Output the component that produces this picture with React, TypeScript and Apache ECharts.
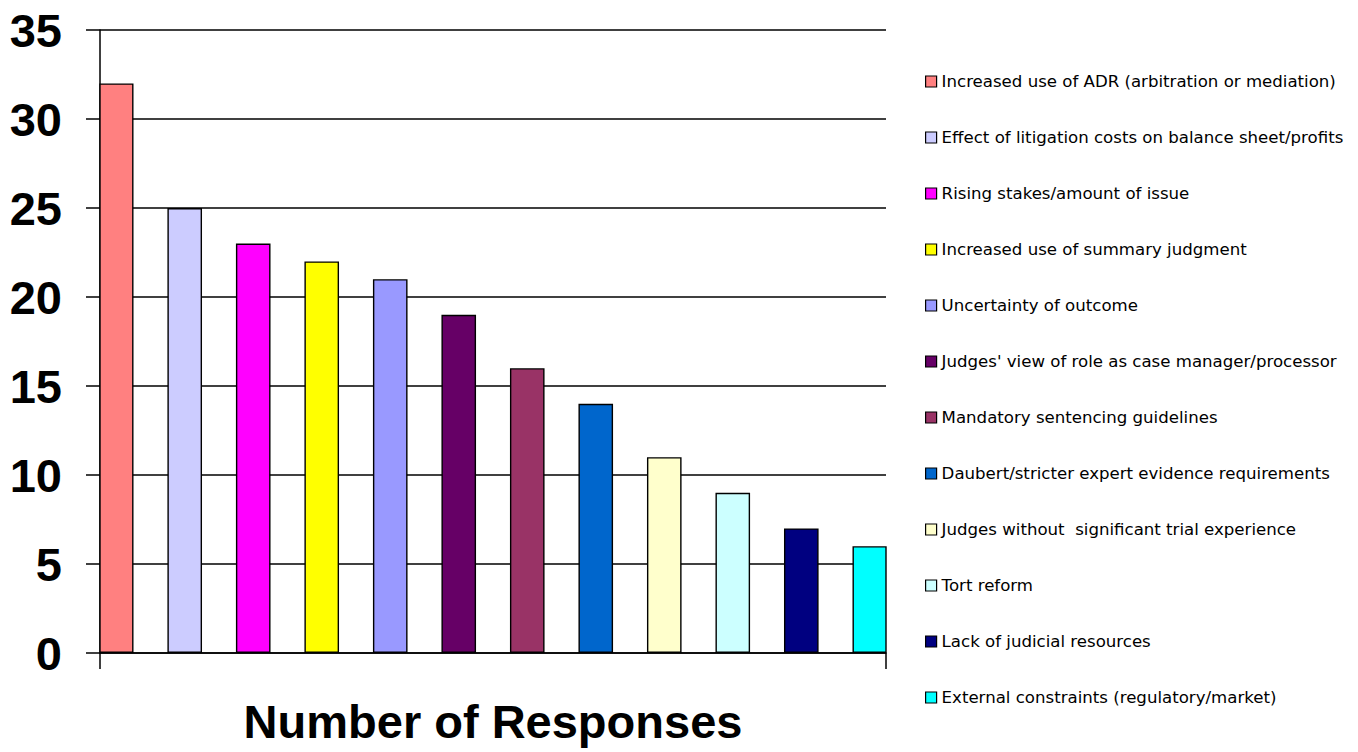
import React, { useEffect, useRef } from "react";
import * as echarts from "echarts";

// Survey factors, in the order the bars are drawn
const factors = [
  "Increased use of ADR (arbitration or mediation)",
  "Effect of litigation costs on balance sheet/profits",
  "Rising stakes/amount of issue",
  "Increased use of summary judgment",
  "Uncertainty of outcome",
  "Judges' view of role as case manager/processor",
  "Mandatory sentencing guidelines",
  "Daubert/stricter expert evidence requirements",
  "Judges without  significant trial experience",
  "Tort reform",
  "Lack of judicial resources",
  "External constraints (regulatory/market)",
];

const responses = [32, 25, 23, 22, 21, 19, 16, 14, 11, 9, 7, 6];

const barColors = [
  "#FF8080",
  "#CCCCFF",
  "#FF00FF",
  "#FFFF00",
  "#9999FF",
  "#660066",
  "#993366",
  "#0066CC",
  "#FFFFCC",
  "#CCFFFF",
  "#000080",
  "#00FFFF",
];

const categories = ["Number of Responses"];

export default function App() {
  const ref = useRef<HTMLDivElement>(null);

  useEffect(() => {
    if (!ref.current) return;
    const chart = echarts.init(ref.current, null, { renderer: "svg" });

    const series = factors.map((name, i) => ({
      name,
      type: "bar",
      data: [responses[i]],
      barWidth: 34.6,
      barGap: "98%",
      itemStyle: {
        color: barColors[i],
        borderColor: "#000",
        borderWidth: 1.4,
      },
    }));

    chart.setOption({
      animation: false,
      backgroundColor: "#fff",
      grid: { left: 100, right: 472, top: 30, bottom: 99, containLabel: false },
      legend: {
        orient: "vertical",
        left: 925,
        top: 73,
        padding: 0,
        icon: "rect",
        itemWidth: 11,
        itemHeight: 11,
        itemGap: 39,
        itemStyle: { borderColor: "#000", borderWidth: 1.2 },
        textStyle: {
          fontFamily: "DejaVu Sans",
          fontSize: 16.6,
          color: "#000",
          lineHeight: 16,
        },
        data: factors,
      },
      xAxis: {
        type: "category",
        data: categories,
        axisLine: { lineStyle: { color: "#000", width: 1.5 } },
        axisTick: { show: true, length: 16, lineStyle: { color: "#000", width: 1.5 } },
        axisLabel: {
          margin: 45,
          fontFamily: "Liberation Sans",
          fontWeight: "bold",
          fontSize: 47,
          color: "#000",
        },
      },
      yAxis: {
        type: "value",
        min: 0,
        max: 35,
        interval: 5,
        axisLine: { show: true, lineStyle: { color: "#000", width: 1.5 } },
        axisTick: { show: true, length: 14, lineStyle: { color: "#000", width: 1.5 } },
        splitLine: { show: true, lineStyle: { color: "#000", width: 1.5 } },
        axisLabel: {
          margin: 38,
          fontFamily: "Liberation Sans",
          fontWeight: "bold",
          fontSize: 47,
          color: "#000",
        },
      },
      series,
    });

    return () => chart.dispose();
  }, []);

  return <div ref={ref} style={{ width: 1358, height: 752, position: "absolute", left: 0, top: 0 }} />;
}
